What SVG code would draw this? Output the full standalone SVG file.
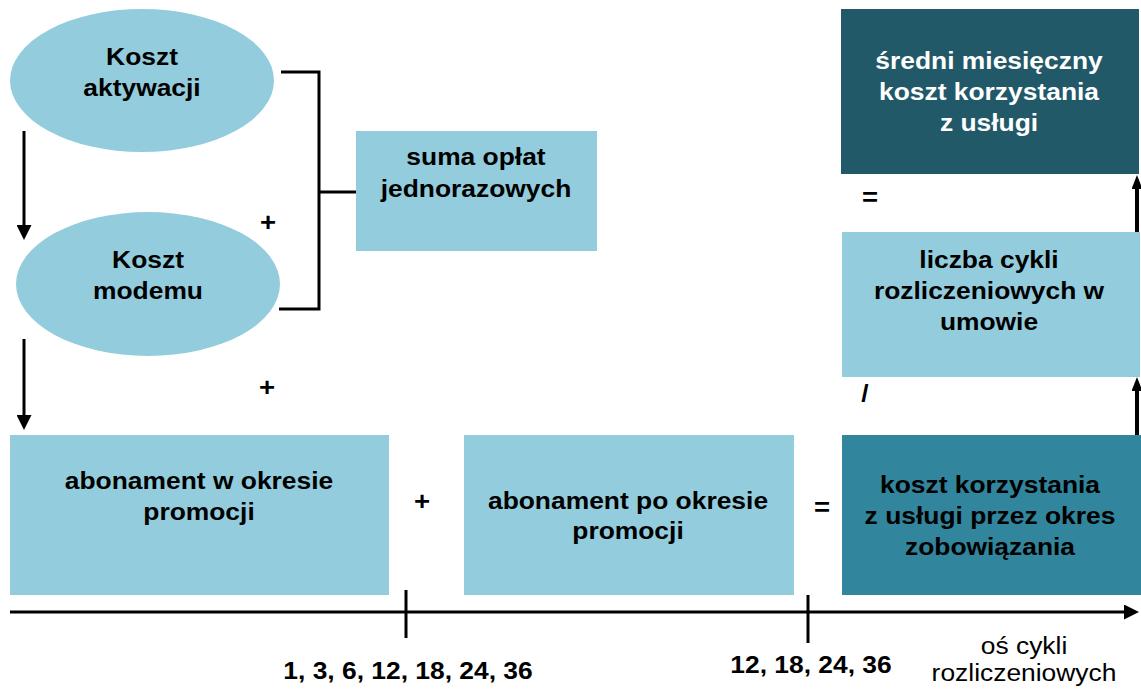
<svg xmlns="http://www.w3.org/2000/svg" width="1141" height="689" viewBox="0 0 1141 689">
<style>
.lb{fill:#93CDDD}
.dk{fill:#215968}
.md{fill:#31859C}
.t{font-family:"Liberation Sans",Arial,sans-serif;font-weight:bold;font-size:24px;text-anchor:middle;fill:#000}
.w{fill:#fff}
.r{font-weight:normal}
.ln{stroke:#000;stroke-width:3;fill:none}
.thk{stroke-width:4}
</style>
<defs>
<marker id="ah" viewBox="0 0 15 15" markerWidth="15" markerHeight="15" refX="0" refY="7.5" orient="auto" markerUnits="userSpaceOnUse"><path d="M0,0 L15,7.5 L0,15 z" fill="#000"/></marker>
<marker id="ah2" viewBox="0 0 14 11" markerWidth="14" markerHeight="11" refX="0" refY="5.5" orient="auto" markerUnits="userSpaceOnUse"><path d="M0,0 L14,5.5 L0,11 z" fill="#000"/></marker>
</defs>
<g id="koszt-aktywacji">
<ellipse class="lb" cx="142" cy="80.5" rx="132" ry="71.5"/>
<text class="t" transform="translate(142,65) scale(1.1,1)"><tspan x="0" y="0">Koszt</tspan><tspan x="0" y="31">aktywacji</tspan></text>
</g>
<g id="koszt-modemu">
<ellipse class="lb" cx="148" cy="284" rx="132" ry="72"/>
<text class="t" transform="translate(148,268) scale(1.1,1)"><tspan x="0" y="0">Koszt</tspan><tspan x="0" y="31">modemu</tspan></text>
</g>
<g id="suma-oplat">
<rect class="lb" x="356" y="131" width="241" height="120"/>
<text class="t" transform="translate(476,165) scale(1.1,1)"><tspan x="0" y="0">suma opłat</tspan><tspan x="0" y="32">jednorazowych</tspan></text>
</g>
<g id="abonament-w-okresie">
<rect class="lb" x="10" y="435" width="379" height="160"/>
<text class="t" transform="translate(199,489) scale(1.1,1)"><tspan x="0" y="0">abonament w okresie</tspan><tspan x="0" y="31">promocji</tspan></text>
</g>
<g id="abonament-po-okresie">
<rect class="lb" x="464" y="435" width="330" height="160"/>
<text class="t" transform="translate(628,509) scale(1.1,1)"><tspan x="0" y="0">abonament po okresie</tspan><tspan x="0" y="30">promocji</tspan></text>
</g>
<g id="koszt-korzystania">
<rect class="md" x="842" y="435" width="299" height="160"/>
<text class="t" transform="translate(990,493) scale(1.1,1)"><tspan x="0" y="0">koszt korzystania</tspan><tspan x="0" y="31">z usługi przez okres</tspan><tspan x="0" y="62">zobowiązania</tspan></text>
</g>
<g id="liczba-cykli">
<rect class="lb" x="842" y="232" width="298" height="145"/>
<text class="t" transform="translate(989,268) scale(1.1,1)"><tspan x="0" y="0">liczba cykli</tspan><tspan x="0" y="31">rozliczeniowych w</tspan><tspan x="0" y="62">umowie</tspan></text>
</g>
<g id="sredni-koszt">
<rect class="dk" x="841" y="9" width="298" height="165"/>
<text class="t w" transform="translate(989,69) scale(1.1,1)"><tspan x="0" y="0">średni miesięczny</tspan><tspan x="0" y="31">koszt korzystania</tspan><tspan x="0" y="62">z usługi</tspan></text>
</g>
<g id="operators">
<text class="t" transform="translate(268,231) scale(1.15,1.05)">+</text>
<text class="t" transform="translate(267,396) scale(1.15,1.05)">+</text>
<text class="t" transform="translate(422,510) scale(1.15,1.05)">+</text>
<text class="t" transform="translate(822,516) scale(1.15,1.05)">=</text>
<text class="t" transform="translate(870,206) scale(1.15,1.05)">=</text>
<text class="t" transform="translate(865,402) scale(1.1,1)">/</text>
</g>
<g id="connectors">
<line class="ln" x1="24" y1="131" x2="24" y2="225" marker-end="url(#ah)"/>
<line class="ln" x1="24" y1="339" x2="24" y2="415" marker-end="url(#ah)"/>
<polyline class="ln" points="281,72 319,72 319,309 279,309"/>
<line class="ln" x1="319" y1="192" x2="356" y2="192"/>
<line class="ln thk" x1="1137" y1="232" x2="1137" y2="189" marker-end="url(#ah2)"/>
<line class="ln thk" x1="1137" y1="435" x2="1137" y2="391" marker-end="url(#ah2)"/>
<line class="ln" x1="10" y1="612" x2="1124" y2="612" marker-end="url(#ah)"/>
<line class="ln" x1="406" y1="590" x2="406" y2="638"/>
<line class="ln" x1="808" y1="595" x2="808" y2="643"/>
</g>
<g id="axis-labels">
<text class="t" transform="translate(408,679) scale(1.1,1)">1, 3, 6, 12, 18, 24, 36</text>
<text class="t" transform="translate(811,673) scale(1.1,1)">12, 18, 24, 36</text>
<text class="t r" transform="translate(1024,654) scale(1.1,1)"><tspan x="0" y="0">oś cykli</tspan><tspan x="0" y="27">rozliczeniowych</tspan></text>
</g>
</svg>
